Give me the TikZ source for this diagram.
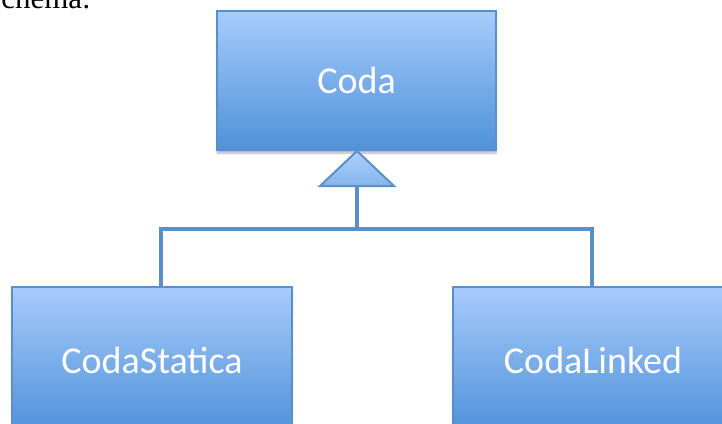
\documentclass[tikz,border=0pt]{standalone}
\usepackage{fontspec}
\setmainfont{Carlito}
\newfontfamily\serifx{Liberation Serif}
\usetikzlibrary{shadows.blur}
\definecolor{topblue}{HTML}{A7CBFB}
\definecolor{botblue}{HTML}{4F91D9}
\definecolor{edgeblue}{HTML}{5A8FC8}
\tikzset{
  classbox/.style={draw=edgeblue, line width=1.5pt, top color=topblue, bottom color=botblue,
    text=white, font=\fontsize{38}{40}\selectfont, inner sep=0pt,
    blur shadow={shadow blur steps=6, shadow xshift=0pt, shadow yshift=-3pt, shadow opacity=30}},
  link/.style={draw=edgeblue, line width=3.5pt},
  tri/.style={draw=edgeblue, line width=2pt, top color=topblue!90!white, bottom color=topblue!60!botblue, line join=miter}
}
\begin{document}
\begin{tikzpicture}[x=1pt,y=-1pt]
\useasboundingbox (0,0) rectangle (722,423);
\node[anchor=base east, inner sep=0pt, font=\serifx\fontsize{31}{33}\selectfont] (caption) at (91,9) {chema:};
\node[classbox, minimum width=279pt, minimum height=139pt] (coda) at (356.5,80.5) {Coda};
\node[classbox, minimum width=280pt, minimum height=146pt] (cs) at (152,360) {CodaStatica};
\node[classbox, minimum width=280pt, minimum height=146pt] (cl) at (593,360) {CodaLinked};
\coordinate (apex) at (357,151);
\coordinate (tl) at (320,186);
\coordinate (tr) at (394,186);
\coordinate (tribase) at (357,186);
\coordinate (bar) at (357,229);
\coordinate (jl) at (161,229);
\coordinate (jr) at (592,229);
\draw[link] (tribase) -- (bar);
\draw[link, line cap=rect] (jl |- cs.north) -- (jl) -- (jr) -- (jr |- cl.north);
\draw[tri] (apex) -- (tr) -- (tl) -- cycle;
\end{tikzpicture}
\end{document}
